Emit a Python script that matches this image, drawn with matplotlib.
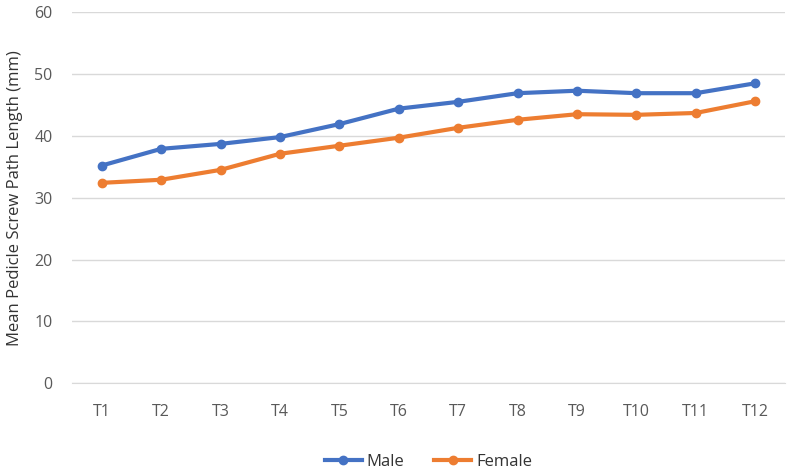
import matplotlib
matplotlib.use("Agg")
import matplotlib.pyplot as plt

categories = ["T1", "T2", "T3", "T4", "T5", "T6", "T7", "T8", "T9", "T10", "T11", "T12"]
male = [35.2, 37.9, 38.7, 39.8, 41.9, 44.4, 45.5, 46.9, 47.3, 46.9, 46.9, 48.5]
female = [32.4, 32.9, 34.5, 37.1, 38.4, 39.7, 41.3, 42.6, 43.5, 43.4, 43.7, 45.6]
yticks = [0, 10, 20, 30, 40, 50, 60]

plt.rcParams['font.family'] = ['Open Sans', 'DejaVu Sans']

fig = plt.figure(figsize=(7.92, 4.69), dpi=100)
ax = fig.add_axes([0.091, 0.183, 0.900, 0.791])

x = list(range(len(categories)))
ax.plot(x, male, color="#4472C4", lw=3, marker="o", ms=6, label="Male")
ax.plot(x, female, color="#ED7D31", lw=3, marker="o", ms=6, label="Female")

ax.set_xlim(-0.5, len(categories) - 0.5)
ax.set_ylim(0, 60)
ax.set_yticks(yticks)
ax.set_xticks(x)
ax.set_xticklabels(categories)
ax.grid(axis="y", color="#D9D9D9", lw=1)
ax.set_axisbelow(True)
for s in ["top", "right", "left"]:
    ax.spines[s].set_visible(False)
ax.spines["bottom"].set_color("#D9D9D9")
ax.tick_params(axis="both", length=0, labelsize=11.5, colors="#595959")
ax.tick_params(axis="x", pad=15)
ax.tick_params(axis="y", pad=14)
ax.set_ylabel("Mean Pedicle Screw Path Length (mm)", fontsize=12, color="#333333", labelpad=8)

ax.legend(loc="upper center", bbox_to_anchor=(0.5, -0.15), ncol=2, frameon=False,
          fontsize=12, labelcolor="#333333", handlelength=2.2, handletextpad=0.3,
          columnspacing=1.8)

fig.savefig("out.png", dpi=100)
